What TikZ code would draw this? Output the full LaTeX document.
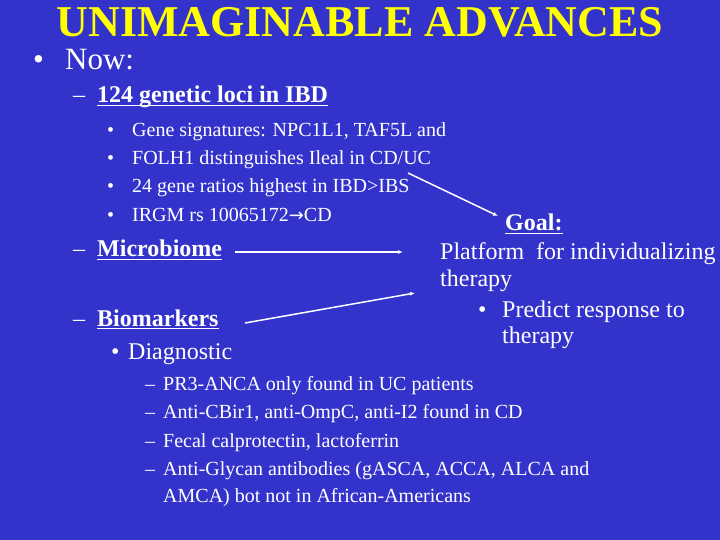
\documentclass[tikz,border=0pt]{standalone}
\usepackage{fontspec}
\setmainfont{Liberation Serif}
\newfontfamily\symfont{DejaVu Sans}
\usetikzlibrary{arrows.meta}
\definecolor{slide}{RGB}{51,51,204}
\definecolor{head}{RGB}{255,255,0}
\newcommand\undl[1]{\sbox0{#1}\rlap{\rule[-3bp]{\wd0}{1.3bp}}\usebox0}

\begin{document}
\begin{tikzpicture}[x=1bp,y=-1bp]
\tikzstyle{line}=[anchor=base west,inner sep=0pt,text=white]
\tikzstyle{huge}=[font=\fontsize{31bp}{36bp}\selectfont]
\tikzstyle{big}=[font=\fontsize{24bp}{28bp}\selectfont]
\tikzstyle{bigb}=[font=\fontsize{24bp}{28bp}\selectfont\bfseries]
\tikzstyle{small}=[font=\fontsize{20bp}{24bp}\selectfont]
\tikzstyle{arr}=[white,line width=1.5bp,-{Latex[length=5bp,width=4bp]}]
\fill[slide] (0,0) rectangle (720,540);
\useasboundingbox (0,0) rectangle (720,540);
% title
\node[anchor=base,inner sep=0pt,text=head,font=\fontsize{44bp}{48bp}\selectfont\bfseries] (1) at (360,37) {UNIMAGINABLE ADVANCES};
\node[line,huge] (2) at (33,70) {\makebox[32bp][l]{•}Now:};
% genetics
\node[line,bigb] (3) at (73,103) {\makebox[24bp][l]{\mdseries –}\undl{124 genetic loci in IBD}};
\node[line,small] (4) at (107,137) {\makebox[25bp][l]{•}Gene signatures: NPC1L1, TAF5L and};
\node[line,small] (5) at (107,165) {\makebox[25bp][l]{•}FOLH1 distinguishes Ileal in CD/UC};
\node[line,small] (6) at (107,193) {\makebox[25bp][l]{•}24 gene ratios highest in IBD>IBS};
\node[line,small] (7) at (107,222) {\makebox[25bp][l]{•}IRGM rs 10065172{\symfont\fontsize{18bp}{20bp}\selectfont →}CD};
% microbiome and biomarkers
\node[line,bigb] (8) at (73,257) {\makebox[24bp][l]{\mdseries –}\undl{Microbiome}};
\node[line,bigb] (9) at (73,326) {\makebox[24bp][l]{\mdseries –}\undl{Biomarkers}};
\node[line,big] (10) at (111,359) {\makebox[17bp][l]{•}Diagnostic};
\node[line,small] (11) at (145,390) {\makebox[18bp][l]{–}PR3-ANCA only found in UC patients};
\node[line,small] (12) at (145,418) {\makebox[18bp][l]{–}Anti-CBir1, anti-OmpC, anti-I2 found in CD};
\node[line,small] (13) at (145,447) {\makebox[18bp][l]{–}Fecal calprotectin, lactoferrin};
\node[line,small] (14) at (145,475) {\makebox[18bp][l]{–}Anti-Glycan antibodies (gASCA, ACCA, ALCA and};
\node[line,small] (15) at (163,502) {AMCA) bot not in African-Americans};
% goal
\node[line,bigb] (16) at (505,231) {\undl{Goal:}};
\node[line,big] (17) at (440,260) {Platform\ \ for individualizing};
\node[line,big] (18) at (440,287) {therapy};
\node[line,big] (19) at (478,317) {\makebox[24bp][l]{•}Predict response to};
\node[line,big] (20) at (502,343) {therapy};
% arrows
\coordinate (c1) at (408,173);
\coordinate (c2) at (498,216);
\coordinate (c3) at (235,252);
\coordinate (c4) at (403,252);
\coordinate (c5) at (245,323);
\coordinate (c6) at (415,293);
\draw[arr] (c1) -- (c2);
\draw[arr] (c3) -- (c4);
\draw[arr] (c5) -- (c6);
\end{tikzpicture}
\end{document}
